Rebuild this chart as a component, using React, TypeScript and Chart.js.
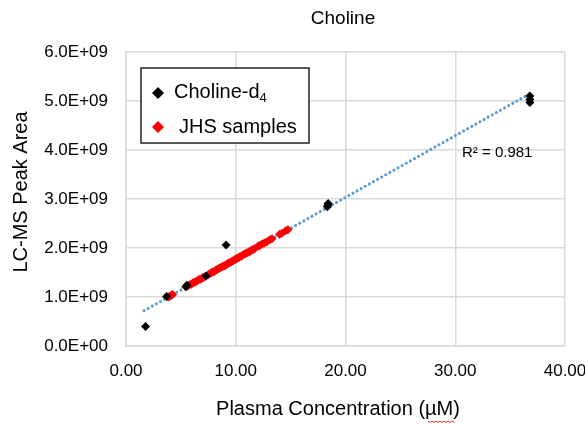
import React, { useEffect, useRef } from "react";
import { Chart, registerables } from "chart.js";

Chart.register(...registerables);

// Calibrators (Choline-d4)
const calX = [1.78, 3.7, 5.45, 5.55, 7.3, 9.12, 18.35, 18.4, 18.42, 36.8, 36.8, 36.8];
const calY = [0.40e9, 1.01e9, 1.21e9, 1.24e9, 1.43e9, 2.06e9, 2.84e9, 2.88e9, 2.91e9, 4.97e9, 5.03e9, 5.10e9];

// JHS samples
const jhsX = [3.85, 3.95, 4.1, 4.25, 5.6, 5.8, 5.95, 6.1, 6.25, 6.35, 6.5, 6.6, 6.75, 6.9, 7.0, 7.15, 7.5, 7.65, 7.8, 7.9, 8.05, 8.2, 8.3, 8.45, 8.55, 8.7, 8.8, 8.95, 9.05, 9.2, 9.3, 9.4, 9.55, 9.65, 9.75, 9.9, 10.0, 10.1, 10.25, 10.35, 10.5, 10.6, 10.75, 10.9, 11.0, 11.15, 11.3, 11.45, 11.6, 11.75, 12.05, 12.2, 12.4, 12.6, 12.8, 13.1, 13.3, 14.0, 14.2, 14.55, 14.75];
const jhsY = [1.00e9, 1.01e9, 1.03e9, 1.05e9, 1.22e9, 1.25e9, 1.26e9, 1.29e9, 1.30e9, 1.31e9, 1.33e9, 1.35e9, 1.36e9, 1.38e9, 1.40e9, 1.41e9, 1.46e9, 1.48e9, 1.50e9, 1.51e9, 1.52e9, 1.55e9, 1.56e9, 1.58e9, 1.59e9, 1.61e9, 1.62e9, 1.64e9, 1.65e9, 1.67e9, 1.69e9, 1.70e9, 1.71e9, 1.73e9, 1.74e9, 1.76e9, 1.77e9, 1.79e9, 1.80e9, 1.82e9, 1.83e9, 1.85e9, 1.87e9, 1.89e9, 1.90e9, 1.92e9, 1.93e9, 1.96e9, 1.97e9, 1.99e9, 2.04e9, 2.05e9, 2.08e9, 2.10e9, 2.12e9, 2.17e9, 2.19e9, 2.28e9, 2.30e9, 2.35e9, 2.37e9];

// Linear trendline endpoints
const trendX = [1.64, 36.8];
const trendY = [0.72e9, 5.15e9];

const chartTitle = "Choline";
const xTitle = "Plasma Concentration (µM)";
const yTitle = "LC-MS Peak Area";
const seriesNames = ["Choline-d", "JHS samples"];
const r2Label = "R² = 0.981";
const xTicks = [0, 10, 20, 30, 40];
const yTicks = [0, 1e9, 2e9, 3e9, 4e9, 5e9, 6e9];

const FF = '"Liberation Sans", Arial, sans-serif';

function sci(v: number): string {
  if (v === 0) return "0.0E+00";
  const e = Math.floor(Math.log10(Math.abs(v)) + 1e-9);
  const m = v / Math.pow(10, e);
  const es = (e < 0 ? "-" : "+") + String(Math.abs(e)).padStart(2, "0");
  return m.toFixed(1) + "E" + es;
}

function diamond(ctx: CanvasRenderingContext2D, x: number, y: number, r: number, color: string) {
  ctx.beginPath();
  ctx.moveTo(x, y - r);
  ctx.lineTo(x + r, y);
  ctx.lineTo(x, y + r);
  ctx.lineTo(x - r, y);
  ctx.closePath();
  ctx.fillStyle = color;
  ctx.fill();
}

const decor = {
  id: "decor",
  afterDraw(chart: any) {
    const ctx: CanvasRenderingContext2D = chart.ctx;
    ctx.save();
    ctx.fillStyle = "#000";
    ctx.textAlign = "center";
    ctx.textBaseline = "middle";
    ctx.font = `19px ${FF}`;
    ctx.fillText(chartTitle, 343, 19);

    ctx.font = `20px ${FF}`;
    ctx.fillText(xTitle, 338, 409);
    // spell-check squiggle under µM
    const tw = ctx.measureText(xTitle).width;
    const endX = 338 + tw / 2 - 6;
    const startX = endX - 26;
    ctx.beginPath();
    ctx.strokeStyle = "#e03030";
    ctx.lineWidth = 1;
    for (let px = startX, k = 0; px <= endX; px += 2, k++) {
      const py = 421 + (k % 2 === 0 ? 0 : 1.5);
      if (k === 0) ctx.moveTo(px, py);
      else ctx.lineTo(px, py);
    }
    ctx.stroke();

    ctx.save();
    ctx.translate(21, 192);
    ctx.rotate(-Math.PI / 2);
    ctx.fillText(yTitle, 0, 0);
    ctx.restore();

    // legend box
    ctx.fillStyle = "#fff";
    ctx.fillRect(141, 68, 168, 75);
    ctx.strokeStyle = "#222";
    ctx.lineWidth = 1.5;
    ctx.strokeRect(141, 68, 168, 75);
    diamond(ctx, 158, 93, 6, "#000");
    diamond(ctx, 158, 127, 6, "#ff0000");
    ctx.fillStyle = "#000";
    ctx.textAlign = "left";
    ctx.font = `20px ${FF}`;
    ctx.fillText(seriesNames[0], 174, 92);
    const w0 = ctx.measureText(seriesNames[0]).width;
    ctx.font = `13px ${FF}`;
    ctx.fillText("4", 174 + w0, 98);
    ctx.font = `20px ${FF}`;
    ctx.fillText(seriesNames[1], 179, 127);

    ctx.font = `15px ${FF}`;
    ctx.fillText(r2Label, 462, 153);
    ctx.restore();
  },
};

export default function App() {
  const ref = useRef<HTMLCanvasElement | null>(null);
  useEffect(() => {
    document.body.style.margin = "0";
    if (!ref.current) return;
    const chart = new Chart(ref.current, {
      type: "scatter",
      data: {
        datasets: [
          {
            label: seriesNames[0] + "4",
            data: calX.map((x, i) => ({ x, y: calY[i] })),
            backgroundColor: "#000",
            borderColor: "#000",
            pointStyle: "rectRot",
            pointRadius: 4.5,
            borderWidth: 0,
          },
          {
            label: seriesNames[1],
            data: jhsX.map((x, i) => ({ x, y: jhsY[i] })),
            backgroundColor: "#ff0000",
            borderColor: "#ff0000",
            pointStyle: "rectRot",
            pointRadius: 4.5,
            borderWidth: 0,
          },
          {
            type: "line",
            label: "Trend",
            data: trendX.map((x, i) => ({ x, y: trendY[i] })),
            borderColor: "#5b9bd5",
            borderWidth: 3,
            borderDash: [0.1, 4.6],
            borderCapStyle: "round",
            pointRadius: 0,
            fill: false,
          } as any,
        ],
      },
      options: {
        responsive: false,
        animation: false,
        layout: { padding: { top: 52, left: 0, right: 20, bottom: 0 } },
        plugins: {
          legend: { display: false },
          title: { display: false },
          tooltip: { enabled: false },
        },
        scales: {
          x: {
            type: "linear",
            min: 0,
            max: 40,
            afterBuildTicks: (s: any) => {
              s.ticks = xTicks.map((v) => ({ value: v }));
            },
            ticks: {
              callback: (v: any) => Number(v).toFixed(2),
              font: { family: FF, size: 17 },
              color: "#000",
              padding: 15,
              maxRotation: 0,
            },
            grid: { color: "#d9d9d9", lineWidth: 1.5, drawTicks: false },
            border: { color: "#d9d9d9", width: 1.5 },
            afterFit: (s: any) => {
              s.height = 79;
              s.paddingLeft = 0;
              s.paddingRight = 0;
            },
          },
          y: {
            type: "linear",
            min: 0,
            max: 6e9,
            afterBuildTicks: (s: any) => {
              s.ticks = yTicks.map((v) => ({ value: v }));
            },
            ticks: {
              callback: (v: any) => sci(Number(v)),
              font: { family: FF, size: 17 },
              color: "#000",
              padding: 18,
            },
            grid: { color: "#d9d9d9", lineWidth: 1.5, drawTicks: false },
            border: { color: "#d9d9d9", width: 1.5 },
            afterFit: (s: any) => {
              s.width = 126;
              s.paddingTop = 0;
              s.paddingBottom = 0;
            },
          },
        },
      },
      plugins: [decor],
    });
    return () => chart.destroy();
  }, []);
  return (
    <canvas
      ref={ref}
      width={585}
      height={425}
      style={{ display: "block", width: 585, height: 425 }}
    />
  );
}
